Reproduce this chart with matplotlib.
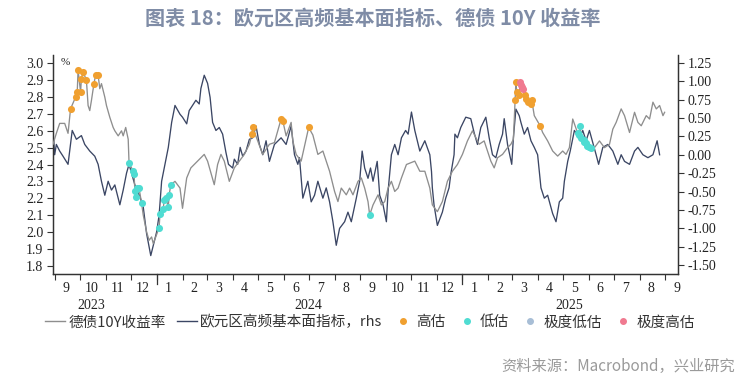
import matplotlib
matplotlib.use("Agg")
import matplotlib.pyplot as plt
import matplotlib.transforms as mtransforms
from matplotlib.lines import Line2D
import pandas as pd

# ---------------- data ----------------
# days counted from 2023-09-01
base_date = "2023-09-01"
bund_days = [-2, 2, 6, 12, 16, 40, 42, 44, 54, 56, 60, 62, 66, 70, 72, 76, 80, 82, 85, 88,
             106, 110, 113, 116, 118, 144, 150, 153, 158, 163, 171, 179, 183, 191, 195,
             199, 203, 209, 215, 221, 227, 233, 243, 249, 257, 263, 277, 283, 285, 289,
             295, 309, 315, 321, 325, 329, 335, 339, 343, 349, 353, 357, 363, 367, 371,
             375, 381, 387, 391, 395, 399, 403, 407, 411, 415, 421, 431, 437, 443, 449,
             452, 458, 464, 470, 476, 482, 488, 494, 500, 504, 508, 514, 518, 522, 526,
             530, 536, 542, 546, 549, 574, 584, 590, 596, 602, 608, 612, 616, 620, 646,
             652, 658, 664, 668, 672, 678, 682, 688, 694, 698, 702, 708, 712, 716, 720,
             724, 728, 730]
bund_10y = [2.52, 2.585, 2.644, 2.644, 2.585, 2.75, 2.72, 2.78, 2.85, 2.88, 2.80, 2.75,
            2.68, 2.62, 2.60, 2.57, 2.60, 2.57, 2.62, 2.55,
            2.10, 2.00, 1.95, 1.97, 1.93, 2.30, 2.26, 2.14, 2.32, 2.38, 2.42, 2.46, 2.42,
            2.28, 2.40, 2.46, 2.42, 2.30, 2.38, 2.42, 2.46, 2.52, 2.54, 2.46, 2.52, 2.53,
            2.57, 2.65, 2.54, 2.46, 2.42, 2.575, 2.46, 2.48, 2.42, 2.36, 2.24, 2.18, 2.26,
            2.22, 2.26, 2.22, 2.30, 2.32, 2.26, 2.18, 2.16, 2.22, 2.16, 2.18, 2.26, 2.30,
            2.24, 2.26, 2.32, 2.40, 2.42, 2.36, 2.36, 2.26, 2.16, 2.12, 2.18, 2.30, 2.36,
            2.40, 2.46, 2.54, 2.60, 2.56, 2.52, 2.54, 2.48, 2.42, 2.38, 2.44, 2.46, 2.50,
            2.52, 2.55, 2.69, 2.59, 2.54, 2.48, 2.45, 2.48, 2.46, 2.50, 2.67, 2.50, 2.54,
            2.50, 2.52, 2.61, 2.65, 2.73, 2.69, 2.59, 2.71, 2.65, 2.63, 2.69, 2.67, 2.77,
            2.73, 2.75, 2.69, 2.71]

hf_days = [-2, 0, 2, 6, 10, 16, 21, 26, 32, 36, 42, 48, 52, 56, 60, 64, 68, 72, 76, 78,
           82, 86, 89, 92, 96, 102, 106, 110, 115, 122, 125, 128, 132, 136, 140, 144,
           150, 153, 158, 161, 165, 169, 173, 175, 179, 183, 186, 189, 193, 197, 201,
           205, 208, 213, 215, 219, 222, 225, 229, 233, 237, 241, 245, 249, 253, 257,
           263, 271, 277, 283, 287, 291, 293, 297, 303, 307, 311, 315, 321, 325, 329,
           333, 337, 341, 347, 351, 355, 361, 365, 368, 371, 375, 378, 381, 386, 389,
           393, 397, 399, 403, 407, 411, 415, 420, 423, 427, 431, 437, 443, 449, 451,
           452, 454, 458, 464, 468, 472, 474, 478, 479, 482, 486, 492, 498, 502, 506,
           510, 516, 520, 524, 528, 532, 536, 538, 542, 547, 549, 552, 556, 558, 562,
           566, 570, 574, 578, 582, 586, 590, 596, 600, 604, 608, 610, 614, 617, 622,
           628, 632, 636, 640, 648, 651, 656, 662, 668, 674, 678, 682, 688, 694, 698,
           704, 710, 716, 721, 724]
ea_hf_indicator = [0.33, 0.00, 0.14, 0.05, -0.02, -0.13, 0.33, 0.21, 0.26, 0.14,
                   0.05, -0.02, -0.13, -0.36, -0.55, -0.36, -0.48, -0.41, -0.59, -0.68,
                   -0.48, -0.25, -0.13, -0.25, -0.41, -0.57, -0.71, -1.07, -1.37, -1.05,
                   -0.82, -0.36, -0.13, 0.10, 0.44, 0.67, 0.55, 0.51, 0.42, 0.60,
                   0.67, 0.74, 0.69, 0.90, 1.08, 0.97, 0.78, 0.44, 0.33, 0.37,
                   0.28, 0.03, -0.13, -0.18, -0.06, -0.13, 0.10, -0.02, 0.05, 0.21,
                   0.23, 0.39, 0.14, 0.00, 0.19, -0.09, 0.14, 0.23, 0.14, 0.39,
                   0.00, -0.13, -0.04, -0.59, -0.36, -0.64, -0.55, -0.36, -0.59, -0.45,
                   -0.64, -0.91, -1.23, -1.00, -0.91, -0.78, -0.91, -0.59, -0.36, 0.05,
                   -0.18, -0.32, -0.18, -0.36, -0.09, -0.55, -0.68, -0.91, -0.50, 0.00,
                   0.14, 0.00, 0.23, 0.33, 0.28, 0.58, 0.33, 0.05, 0.19, 0.00,
                   -0.23, -0.45, -0.68, -0.96, -0.78, -0.59, -0.45, -0.27, 0.00, 0.28,
                   0.23, 0.37, 0.51, 0.49, 0.30, 0.14, 0.37, 0.51, 0.23, 0.00,
                   -0.04, 0.14, 0.28, 0.49, 0.14, -0.13, 0.23, 0.62, 0.53, 0.44,
                   0.28, 0.37, 0.19, 0.10, 0.00, -0.45, -0.59, -0.55, -0.80, -0.91,
                   -0.64, -0.59, -0.36, -0.09, 0.05, 0.33, 0.23, 0.33, 0.19, 0.33,
                   0.00, -0.13, 0.10, 0.14, 0.05, -0.13, 0.00, -0.09, -0.13, 0.05,
                   0.10, 0.00, -0.04, 0.00, 0.19, 0.00]

high_dates = ["2023-09-20", "2023-09-26", "2023-09-28", "2023-09-29", "2023-10-02",
              "2023-10-03", "2023-10-05", "2023-10-09", "2023-10-18", "2023-10-20",
              "2023-10-23", "2024-04-24", "2024-04-25", "2024-05-29", "2024-05-31",
              "2024-07-01", "2025-03-05", "2025-03-06", "2025-03-07", "2025-03-10",
              "2025-03-17", "2025-03-18", "2025-03-21", "2025-03-24", "2025-03-25",
              "2025-04-04"]
high_vals = [2.73, 2.80, 2.83, 2.96, 2.83, 2.91, 2.95, 2.90, 2.88, 2.93,
             2.93, 2.58, 2.62, 2.67, 2.66, 2.62, 2.78, 2.89, 2.83, 2.81,
             2.81, 2.79, 2.77, 2.76, 2.78, 2.63]
low_dates = ["2023-11-29", "2023-12-04", "2023-12-05", "2023-12-06", "2023-12-07",
             "2023-12-08", "2023-12-11", "2023-12-14", "2024-01-04", "2024-01-05",
             "2024-01-09", "2024-01-10", "2024-01-12", "2024-01-15", "2024-01-16",
             "2024-01-18", "2024-09-12", "2025-05-19", "2025-05-21", "2025-05-22",
             "2025-05-23", "2025-05-26", "2025-05-27", "2025-05-29", "2025-05-30",
             "2025-06-02", "2025-06-04"]
low_vals = [2.41, 2.36, 2.345, 2.24, 2.21, 2.26, 2.26, 2.17, 2.025, 2.105,
            2.136, 2.19, 2.20, 2.15, 2.22, 2.28, 2.10, 2.585, 2.575, 2.63,
            2.555, 2.545, 2.535, 2.525, 2.51, 2.506, 2.496]
ext_low_dates = []
ext_low_vals = []
ext_high_dates = ["2025-03-11", "2025-03-12", "2025-03-13", "2025-03-14"]
ext_high_vals = [2.89, 2.87, 2.86, 2.85]

left_ticks = [1.8, 1.9, 2.0, 2.1, 2.2, 2.3, 2.4, 2.5, 2.6, 2.7, 2.8, 2.9, 3.0]
right_ticks = [-1.5, -1.25, -1.0, -0.75, -0.5, -0.25, 0.0, 0.25, 0.5, 0.75, 1.0, 1.25]

title = "图表 18：欧元区高频基本面指标、德债 10Y 收益率"
source = "资料来源：Macrobond，兴业研究"
labels = ["德债10Y收益率", "欧元区高频基本面指标，rhs", "高估", "低估", "极度低估", "极度高估"]

# ---------------- styling ----------------
C_GRAY = "#8e8e8e"
C_NAVY = "#3b4664"
C_HIGH = "#f0a030"
C_LOW = "#4fdcd2"
C_ELOW = "#a8bed6"
C_EHIGH = "#f07a90"
CJK = ["Noto Sans CJK SC", "DejaVu Sans"]
SERIF = "Liberation Serif"

fig = plt.figure(figsize=(7.55, 3.80), dpi=100)
ax = fig.add_axes([53/755, 1-274/380, (678-53)/755, (274-55)/380])
ax2 = ax.twinx()

t0 = pd.Timestamp(base_date)
bdates = t0 + pd.to_timedelta(bund_days, unit="D")
hdates = t0 + pd.to_timedelta(hf_days, unit="D")

# bund line passes through its readings and the marked observations
s = pd.concat([
    pd.Series(bund_10y, index=bdates),
    pd.Series(high_vals, index=pd.to_datetime(high_dates)),
    pd.Series(low_vals, index=pd.to_datetime(low_dates)),
    pd.Series(ext_high_vals, index=pd.to_datetime(ext_high_dates)),
]).sort_index()
s = s.groupby(level=0).mean()

ax2.plot(hdates, ea_hf_indicator, color=C_NAVY, lw=0.95, zorder=2)
ax.plot(s.index, s.values, color=C_GRAY, lw=0.95, zorder=3)
ax.scatter(pd.to_datetime(high_dates), high_vals, s=26, color=C_HIGH, zorder=5, lw=0)
ax.scatter(pd.to_datetime(low_dates), low_vals, s=26, color=C_LOW, zorder=5, lw=0)
ax.scatter(pd.to_datetime(ext_high_dates), ext_high_vals, s=26, color=C_EHIGH, zorder=6, lw=0)
if ext_low_dates:
    ax.scatter(pd.to_datetime(ext_low_dates), ext_low_vals, s=26, color=C_ELOW, zorder=6, lw=0)

ax.set_zorder(ax2.get_zorder() + 1)
ax.patch.set_visible(False)

ax.set_ylim(1.75, 3.05)
ax2.set_ylim(-1.62, 1.355)
ax.set_yticks(left_ticks)
ax.set_yticklabels([f"{t:.1f}" for t in left_ticks])
ax2.set_yticks(right_ticks)
ax2.set_yticklabels([f"{t:.2f}" for t in right_ticks])

x0 = pd.Timestamp("2023-08-30")
x1 = pd.Timestamp("2025-09-16")
ax.set_xlim(x0, x1)

for a in (ax, ax2):
    a.spines["top"].set_visible(False)
    for sp in ("left", "right", "bottom"):
        a.spines[sp].set_color("#333333")
        a.spines[sp].set_linewidth(0.9)

for a in (ax, ax2):
    a.tick_params(axis="y", direction="out", length=4, width=0.8, color="#333333",
                  labelsize=10, pad=3, labelcolor="#222222")
for lab in ax.get_yticklabels() + ax2.get_yticklabels():
    lab.set_fontfamily(SERIF)

# month boundary ticks
month_starts = pd.date_range("2023-09-01", "2025-09-01", freq="MS")
ax.set_xticks(month_starts)
ax.set_xticklabels([""] * len(month_starts))
ax.tick_params(axis="x", which="major", direction="out", length=4, width=0.8, color="#333333")
mids = month_starts + pd.Timedelta(days=14)
ax.set_xticks(mids, minor=True)
ax.set_xticklabels([str(d.month) for d in mids], minor=True)
ax.tick_params(axis="x", which="minor", length=0, pad=6, labelsize=10, labelcolor="#222222")
for lab in ax.get_xticklabels(minor=True):
    lab.set_fontfamily(SERIF)

# year boundary ticks (longer)
trans = mtransforms.blended_transform_factory(ax.transData, ax.transAxes)
for yb in ["2024-01-01", "2025-01-01"]:
    ax.plot([pd.Timestamp(yb)] * 2, [0, -0.045], transform=trans, color="#333333",
            lw=0.9, clip_on=False)

for yr, d in [("2023", "2023-10-15"), ("2024", "2024-07-01"), ("2025", "2025-05-09")]:
    ax.text(pd.Timestamp(d), -0.142, yr, transform=trans, ha="center", va="center",
            fontsize=10, family=SERIF, color="#222222")

ax.text(0.012, 0.965, "%", transform=ax.transAxes, fontsize=8, family=SERIF,
        color="#222222", va="center", ha="left")

fig.text(0.494, 0.952, title, ha="center", va="center", fontsize=14.5,
         fontweight="bold", color="#7f8ca6", family=CJK)
fig.text(0.973, 0.036, source, ha="right", va="center", fontsize=11,
         color="#9a9a9a", family=CJK)

handles = [
    Line2D([], [], color=C_GRAY, lw=1.0),
    Line2D([], [], color=C_NAVY, lw=1.0),
    Line2D([], [], color=C_HIGH, marker="o", ls="none", markersize=4),
    Line2D([], [], color=C_LOW, marker="o", ls="none", markersize=4),
    Line2D([], [], color=C_ELOW, marker="o", ls="none", markersize=4),
    Line2D([], [], color=C_EHIGH, marker="o", ls="none", markersize=4),
]
leg = fig.legend(handles, labels, loc="center", bbox_to_anchor=(0.49, 0.152), ncol=6,
                 frameon=False, handlelength=1.4, handletextpad=0.2, columnspacing=0.75,
                 prop={"family": CJK, "size": 10.5})
for t in leg.get_texts():
    t.set_color("#333333")

fig.savefig("out.png", dpi=100)
